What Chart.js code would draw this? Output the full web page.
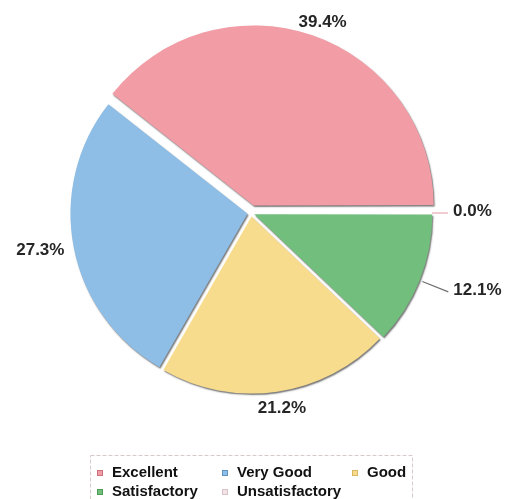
<!DOCTYPE html>
<html><head><meta charset="utf-8">
<script src="https://cdn.jsdelivr.net/npm/chart.js@4"></script>
<style>html,body{margin:0;padding:0;background:#fff;overflow:hidden}
#wrap{position:relative;width:509px;height:499px}</style>
</head><body><div id="wrap"><canvas id="c" width="509" height="499"></canvas></div>
<script>
// ---- data ----
const categories = ['Excellent', 'Very Good', 'Good', 'Satisfactory', 'Unsatisfactory'];
const percentValues = [39.4, 27.3, 21.2, 12.1, 0.0];
const valueLabels = ['39.4%', '27.3%', '21.2%', '12.1%', '0.0%'];

// ---- styles ----
const sliceColors = ['#f29ca6', '#8ebde5', '#f8dc8e', '#72be7c', '#f3e3e7'];
const markerBorders = ['#c9707a', '#5f95c4', '#d9b75f', '#4f9a57', '#d8c4c8'];
const explodePx = [8, 3.5, 3.5, 3.5, 0];   // visible shift in pixels
const leaderLen = [0, 0, 0, 32, 20];
const leaderColors = ['#888', '#888', '#888', '#6f6f6f', '#e6a9b2'];
const labelPad = 10;
const legendCols = [97, 222, 352];
const legendRows = [473, 492];

// the printed pie runs the series counter-clockwise, so feed it reversed
const rev = a => a.slice().reverse();

const shadowPlugin = {
  id: 'shadow',
  beforeDatasetDraw(chart) {
    const ctx = chart.ctx;
    ctx.save();
    ctx.shadowColor = 'rgba(30,30,30,0.6)';
    ctx.shadowBlur = 1.5;
    ctx.shadowOffsetX = 1;
    ctx.shadowOffsetY = 1.5;
  },
  afterDatasetDraw(chart) { chart.ctx.restore(); }
};

const labelPlugin = {
  id: 'labels',
  afterDraw(chart) {
    const ctx = chart.ctx;
    const meta = chart.getDatasetMeta(0);
    const n = categories.length;
    ctx.save();
    ctx.font = 'bold 17px "Liberation Sans", Arial, sans-serif';
    ctx.textBaseline = 'middle';
    meta.data.forEach((arc, j) => {
      const i = n - 1 - j; // original index
      const p = arc.getProps(['x', 'y', 'startAngle', 'endAngle', 'outerRadius'], true);
      const mid = (p.startAngle + p.endAngle) / 2;
      const c = Math.cos(mid), s = Math.sin(mid);
      const off = (arc.options.offset || 0) / 4;
      const cx = p.x + c * off, cy = p.y + s * off;
      const R = p.outerRadius;
      const txt = valueLabels[i];
      const w = ctx.measureText(txt).width;
      ctx.fillStyle = '#262626';
      if (leaderLen[i] > 0) {
        const x1 = cx + c * (R + 4), y1 = cy + s * (R + 4);
        const x2 = cx + c * (R + leaderLen[i]), y2 = cy + s * (R + leaderLen[i]);
        ctx.strokeStyle = leaderColors[i];
        ctx.lineWidth = 1.2;
        ctx.beginPath(); ctx.moveTo(x1, y1); ctx.lineTo(x2, y2); ctx.stroke();
        ctx.textAlign = 'left';
        ctx.fillText(txt, x2 + 5, y2 - 2);
      } else {
        const ax = cx + c * (R + labelPad), ay = cy + s * (R + labelPad);
        ctx.textAlign = 'center';
        ctx.fillText(txt, ax + c * w / 2, ay + s * 7);
      }
    });
    // legend
    ctx.strokeStyle = '#d9caca';
    ctx.lineWidth = 1;
    ctx.setLineDash([4, 2]);
    ctx.strokeRect(90.5, 455.5, 322, 60);
    ctx.setLineDash([]);
    ctx.font = 'bold 15px "Liberation Sans", Arial, sans-serif';
    ctx.textAlign = 'left';
    ctx.textBaseline = 'alphabetic';
    categories.forEach((name, i) => {
      const col = i % 3, row = Math.floor(i / 3);
      const mx = legendCols[col], my = legendRows[row];
      ctx.fillStyle = sliceColors[i];
      ctx.fillRect(mx, my - 3, 6, 6);
      ctx.strokeStyle = markerBorders[i];
      ctx.strokeRect(mx + 0.5, my - 2.5, 5, 5);
      ctx.fillStyle = '#111';
      ctx.fillText(name, mx + 15, my + 4);
    });
    ctx.restore();
  }
};

new Chart(document.getElementById('c'), {
  type: 'pie',
  data: {
    labels: rev(categories),
    datasets: [{
      data: rev(percentValues),
      backgroundColor: rev(sliceColors),
      borderWidth: 0,
      offset: rev(explodePx).map(v => v * 4), // Chart.js draws offset/4
      rotation: 90,
      radius: 177
    }]
  },
  options: {
    responsive: false,
    animation: false,
    devicePixelRatio: 1,
    layout: { padding: { left: 0, right: 7, top: 0, bottom: 73 } },
    plugins: { legend: { display: false }, tooltip: { enabled: false } }
  },
  plugins: [shadowPlugin, labelPlugin]
});
</script></body></html>
